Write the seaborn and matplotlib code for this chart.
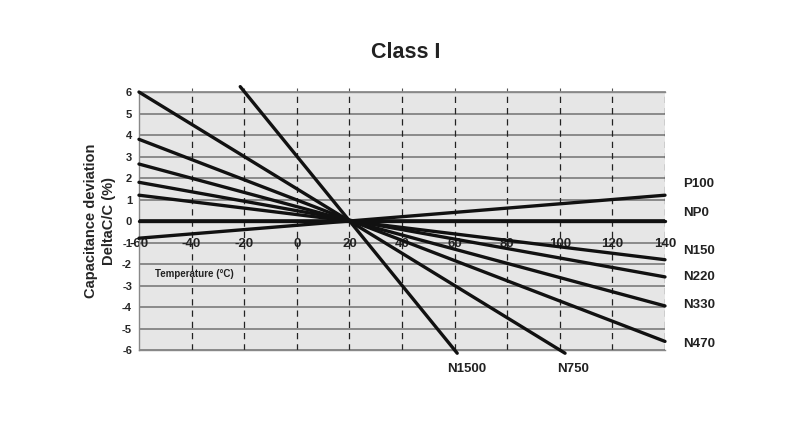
"""Class I ceramic capacitor temperature characteristics (recreated chart)."""
import matplotlib

matplotlib.use("Agg")
import matplotlib.pyplot as plt
import pandas as pd
import seaborn as sns

# grade names and line end points
grades = ["P100", "NP0", "N150", "N220", "N330", "N470", "N750", "N1500"]
temp_start = [-60, -60, -60, -60, -60, -60, -60, -21.5]
temp_end = [140, 140, 140, 140, 140, 140, 102, 61]
dev_start = [-0.8, 0.0, 1.2, 1.8, 2.65, 3.8, 6.0, 6.25]
dev_end = [1.2, 0.0, -1.8, -2.6, -3.95, -5.6, -6.15, -6.15]

# label positions (temperature, deviation) for each grade
label_x = [147, 147, 147, 147, 147, 147, 99, 57]
label_y = [1.7, 0.35, -1.4, -2.6, -3.9, -5.7, -6.9, -6.9]

x_ticks = [-60, -40, -20, 0, 20, 40, 60, 80, 100, 120, 140]
y_ticks = [-6, -5, -4, -3, -2, -1, 0, 1, 2, 3, 4, 5, 6]

rows = []
for g, t0, t1, d0, d1 in zip(grades, temp_start, temp_end, dev_start, dev_end):
    rows.append({"grade": g, "temp": t0, "dev": d0})
    rows.append({"grade": g, "temp": t1, "dev": d1})
df = pd.DataFrame(rows)

sns.set_theme(style="white")
plt.rcParams["font.family"] = ["Liberation Sans", "DejaVu Sans"]

fig = plt.figure(figsize=(8.01, 4.26), dpi=100)
ax = fig.add_axes([0.1735, 0.1784, 0.6567, 0.6056])
ax.set_facecolor("#e6e6e6")

# grid: solid horizontal, dashed vertical
for y in y_ticks:
    ax.axhline(y, color="#7a7a7a", lw=1.2, zorder=1)
for x in x_ticks[1:]:
    ax.axvline(x, color="#222222", lw=0.9, ls=(0, (5, 4)), zorder=1)

sns.lineplot(
    data=df, x="temp", y="dev", hue="grade", hue_order=grades,
    palette=["#111111"] * len(grades), estimator=None, legend=False,
    lw=2.4, ax=ax, zorder=3, clip_on=False,
)
ax.axhline(0, color="#111111", lw=2.6, zorder=3)

ax.set_xlim(-60, 140)
ax.set_ylim(-6, 6)
ax.set_xticks([])
ax.set_yticks(y_ticks)
ax.set_yticklabels([str(v) for v in y_ticks], fontsize=8, fontweight="bold")
ax.tick_params(axis="y", length=3, width=0.8, color="#555555", pad=2)
ax.set_xlabel("")
ax.set_ylabel("Capacitance deviation\nDeltaC/C (%)", fontsize=10.5,
              fontweight="bold", labelpad=4, linespacing=1.45)

# top edge tick marks
sec = ax.secondary_xaxis("top")
sec.set_xticks(x_ticks[1:-1])
sec.set_xticklabels([])
sec.tick_params(length=3, width=0.8, color="#555555")
sec.spines["top"].set_color("#888888")

for side in ["left", "bottom", "top"]:
    ax.spines[side].set_color("#888888")
    ax.spines[side].set_linewidth(1.0)
ax.spines["right"].set_visible(False)

# x tick labels are drawn inside the plot on the -1 line
for x in x_ticks:
    ax.text(x, -1.05, str(x), ha="center", va="center", fontsize=9.5,
            fontweight="bold", color="#222222", zorder=2)
ax.text(-54, -2.45, "Temperature (°C)", ha="left", va="center", fontsize=7,
        fontweight="bold", color="#222222", zorder=2)

for g, lx, ly in zip(grades, label_x, label_y):
    ax.text(lx, ly, g, ha="left", va="center", fontsize=9.5,
            fontweight="bold", color="#222222", clip_on=False)

fig.suptitle("Class I", x=0.506, y=0.877, va="center", fontsize=15.5,
             fontweight="bold", color="#222222")

fig.savefig("out.png", dpi=100)
